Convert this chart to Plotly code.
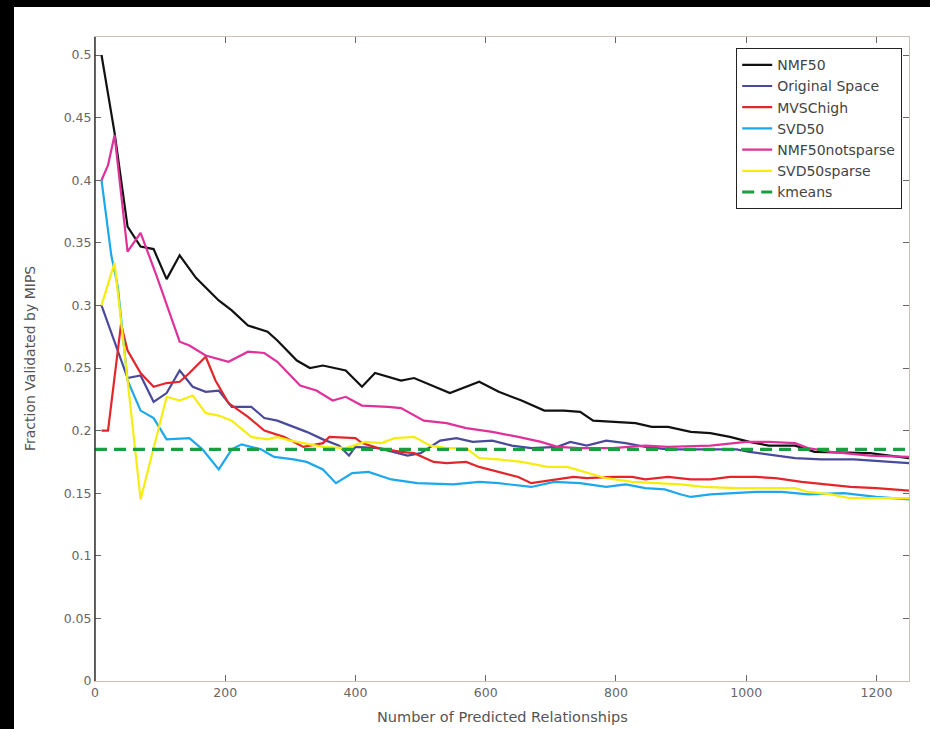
import plotly.graph_objects as go

# ---------------- data ----------------
nmf50_x = [10, 30, 50, 70, 90, 110, 130, 155, 190, 210, 235, 265, 280, 310, 330, 350, 385, 410, 430, 455,
           470, 490, 545, 590, 620, 655, 690, 720, 745, 765, 795, 830, 855, 880, 915, 945, 975, 1005, 1035,
           1075, 1105, 1190, 1250]
nmf50_y = [0.500, 0.438, 0.363, 0.347, 0.345, 0.321, 0.340, 0.322, 0.304, 0.296, 0.284, 0.279, 0.272, 0.256,
           0.250, 0.252, 0.248, 0.235, 0.246, 0.242, 0.240, 0.242, 0.230, 0.239, 0.231, 0.224, 0.216, 0.216,
           0.215, 0.208, 0.207, 0.206, 0.203, 0.203, 0.199, 0.198, 0.195, 0.191, 0.188, 0.188, 0.183, 0.182,
           0.178]

orig_x = [10, 50, 70, 90, 110, 130, 150, 170, 190, 210, 240, 260, 280, 305, 325, 350, 375, 390, 400, 435,
          480, 500, 530, 555, 580, 610, 640, 670, 710, 730, 755, 785, 815, 845, 880, 935, 985, 1005, 1035,
          1075, 1115, 1165, 1250]
orig_y = [0.300, 0.242, 0.244, 0.223, 0.230, 0.248, 0.235, 0.231, 0.232, 0.219, 0.219, 0.210, 0.208, 0.203,
          0.199, 0.193, 0.188, 0.180, 0.187, 0.186, 0.180, 0.182, 0.192, 0.194, 0.191, 0.192, 0.188, 0.186,
          0.187, 0.191, 0.188, 0.192, 0.190, 0.187, 0.185, 0.185, 0.185, 0.183, 0.181, 0.178, 0.177, 0.177,
          0.174]

mvsc_x = [10, 20, 40, 50, 70, 90, 110, 130, 145, 170, 185, 205, 235, 260, 290, 320, 350, 360, 400, 410,
          435, 470, 490, 520, 540, 570, 590, 620, 650, 670, 705, 735, 755, 795, 825, 845, 880, 915, 945,
          975, 1015, 1045, 1085, 1120, 1160, 1200, 1250]
mvsc_y = [0.200, 0.200, 0.285, 0.264, 0.246, 0.235, 0.238, 0.239, 0.246, 0.259, 0.240, 0.222, 0.211, 0.200,
          0.195, 0.187, 0.190, 0.195, 0.194, 0.190, 0.186, 0.183, 0.182, 0.175, 0.174, 0.175, 0.171, 0.167,
          0.163, 0.158, 0.161, 0.163, 0.162, 0.163, 0.163, 0.161, 0.163, 0.161, 0.161, 0.163, 0.163, 0.162,
          0.159, 0.157, 0.155, 0.154, 0.152]

svd50_x = [10, 25, 35, 50, 70, 90, 110, 145, 165, 190, 210, 225, 255, 275, 305, 325, 350, 370, 395, 420,
           455, 495, 550, 590, 620, 670, 705, 745, 785, 815, 845, 875, 900, 915, 945, 975, 1015, 1055, 1095,
           1150, 1200, 1250]
svd50_y = [0.400, 0.340, 0.315, 0.240, 0.216, 0.210, 0.193, 0.194, 0.185, 0.169, 0.185, 0.189, 0.185, 0.179,
           0.177, 0.175, 0.169, 0.158, 0.166, 0.167, 0.161, 0.158, 0.157, 0.159, 0.158, 0.155, 0.159, 0.158,
           0.155, 0.157, 0.154, 0.153, 0.149, 0.147, 0.149, 0.150, 0.151, 0.151, 0.149, 0.150, 0.147, 0.145]

nmfns_x = [10, 20, 30, 50, 70, 95, 130, 145, 170, 205, 235, 260, 280, 315, 340, 365, 385, 410, 450, 470,
           505, 540, 570, 610, 650, 685, 710, 745, 795, 845, 880, 945, 1000, 1035, 1075, 1095, 1130, 1190, 1250]
nmfns_y = [0.400, 0.412, 0.436, 0.343, 0.358, 0.323, 0.271, 0.268, 0.260, 0.255, 0.263, 0.262, 0.255, 0.236,
           0.232, 0.224, 0.227, 0.220, 0.219, 0.218, 0.208, 0.206, 0.202, 0.199, 0.195, 0.191, 0.187, 0.186,
           0.186, 0.188, 0.187, 0.188, 0.191, 0.191, 0.190, 0.186, 0.183, 0.180, 0.179]

svds_x = [10, 30, 45, 70, 110, 130, 150, 170, 190, 210, 240, 265, 280, 300, 320, 350, 385, 415, 440, 460,
          490, 515, 540, 570, 590, 620, 655, 695, 725, 760, 785, 825, 860, 900, 935, 985, 1035, 1075, 1095,
          1130, 1160, 1250]
svds_y = [0.300, 0.334, 0.264, 0.145, 0.227, 0.224, 0.228, 0.214, 0.212, 0.208, 0.195, 0.193, 0.195, 0.192,
          0.190, 0.187, 0.186, 0.191, 0.190, 0.194, 0.195, 0.188, 0.186, 0.186, 0.178, 0.177, 0.175, 0.171,
          0.171, 0.166, 0.162, 0.159, 0.158, 0.157, 0.155, 0.154, 0.154, 0.154, 0.151, 0.149, 0.146, 0.146]

kmeans_x = [0, 1250]
kmeans_y = [0.185, 0.185]

series_names = ["NMF50", "Original Space", "MVSChigh", "SVD50", "NMF50notsparse", "SVD50sparse", "kmeans"]
x_ticks = [0, 200, 400, 600, 800, 1000, 1200]
y_ticks = [0, 0.05, 0.1, 0.15, 0.2, 0.25, 0.3, 0.35, 0.4, 0.45, 0.5]
y_tick_labels = ["0", "0.05", "0.1", "0.15", "0.2", "0.25", "0.3", "0.35", "0.4", "0.45", "0.5"]
x_title = "Number of Predicted Relationships"
y_title = "Fraction Validated by MIPS"

# ---------------- styles ----------------
colors = ["#111111", "#4a4a9c", "#e2262a", "#1ca8ec", "#e0309a", "#f7ec10", "#1a9e3e"]
xs = [nmf50_x, orig_x, mvsc_x, svd50_x, nmfns_x, svds_x, kmeans_x]
ys = [nmf50_y, orig_y, mvsc_y, svd50_y, nmfns_y, svds_y, kmeans_y]

W, H = 930, 729
L, R, T, B = 95, 21, 37, 48
pw, ph = W - L - R, H - T - B

fig = go.Figure()
for name, x, y, c in zip(series_names, xs, ys, colors):
    is_k = name == "kmeans"
    fig.add_trace(go.Scatter(
        x=x, y=y, name=name, mode="lines",
        line=dict(color=c, width=3.2 if is_k else 2.2, dash="12px,7px" if is_k else "solid"),
    ))

font_fam = "DejaVu Sans, Liberation Sans, sans-serif"
axis_common = dict(
    showgrid=False, zeroline=False, showline=True, linecolor="#c9c2b8", linewidth=1,
    mirror="ticks", ticks="inside", ticklen=6, tickcolor="#666", tickwidth=1,
    tickfont=dict(family=font_fam, size=12.5, color="#666"), automargin=False,
)
fig.update_xaxes(range=[0, 1250], tickvals=x_ticks, ticktext=[str(v) for v in x_ticks], **axis_common)
fig.update_yaxes(range=[0, 0.5144], tickvals=y_ticks, ticktext=y_tick_labels, **axis_common)

# axis titles as annotations (pixel-exact placement)
fig.add_annotation(text=x_title, xref="paper", yref="paper", x=0.5, y=(681 - 717) / ph,
                   xanchor="center", yanchor="middle", showarrow=False,
                   font=dict(family=font_fam, size=14.5, color="#555"))
fig.add_annotation(text=y_title, xref="paper", yref="paper", x=(30 - L) / pw, y=0.5,
                   xanchor="center", yanchor="middle", showarrow=False, textangle=-90,
                   font=dict(family=font_fam, size=14, color="#555"))

# dark left axis line
fig.add_shape(type="line", xref="paper", yref="paper", x0=0, x1=0, y0=0, y1=1,
              line=dict(color="#333", width=1.5), layer="above")
# black scan borders (top and left)
fig.add_shape(type="rect", xref="paper", yref="paper",
              x0=-L / pw - 0.01, x1=(14 - L) / pw, y0=-B / ph - 0.01, y1=1 + T / ph + 0.01,
              line=dict(width=0), fillcolor="black", layer="above")
fig.add_shape(type="rect", xref="paper", yref="paper",
              x0=-L / pw - 0.01, x1=1 + R / pw + 0.01, y0=1 + (T - 7) / ph, y1=1 + T / ph + 0.01,
              line=dict(width=0), fillcolor="black", layer="above")

fig.update_layout(
    width=W, height=H,
    margin=dict(l=L, r=R, t=T, b=B, autoexpand=False),
    paper_bgcolor="white", plot_bgcolor="white",
    showlegend=True,
    legend=dict(x=(902 - L) / pw, y=1 - 11 / ph, xanchor="right", yanchor="top",
                bgcolor="white", bordercolor="#222", borderwidth=1.2,
                font=dict(family=font_fam, size=14, color="#444"),
                itemwidth=30, tracegroupgap=0),
)

fig.write_html("out.html", config={"displayModeBar": False},
               post_script="document.body.style.margin='0';document.body.style.overflow='hidden';")
